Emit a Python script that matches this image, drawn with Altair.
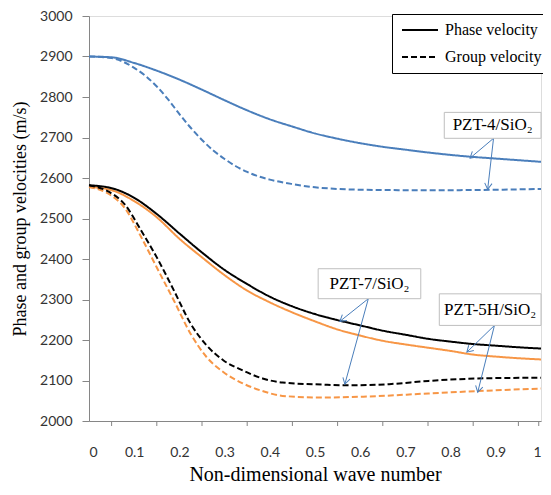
import math
import altair as alt
import pandas as pd

W, H = 452, 405

# ---- data ----
x_tick_labels = [0, 0.1, 0.2, 0.3, 0.4, 0.5, 0.6, 0.7, 0.8, 0.9, 1]
x_tick_marks = [0.05, 0.15, 0.25, 0.35, 0.45, 0.55, 0.65, 0.75, 0.85, 0.95, 0.995]
y_ticks = [2000, 2100, 2200, 2300, 2400, 2500, 2600, 2700, 2800, 2900, 3000]

materials = ["PZT-4/SiO₂", "PZT-7/SiO₂", "PZT-5H/SiO₂"]
material_colors = ["#4a7ebb", "#000000", "#f79646"]
kinds = ["Phase velocity", "Group velocity"]

pzt4_phase_x = [0, 0.05, 0.1, 0.15, 0.2, 0.25, 0.3, 0.35, 0.4, 0.45, 0.5, 0.55, 0.6, 0.65, 0.7, 0.75, 0.8, 0.85, 0.9, 0.95, 1.0]
pzt4_phase_v = [2900, 2898, 2884, 2865, 2843, 2818, 2792, 2767, 2745, 2727, 2710, 2697, 2686, 2677, 2670, 2663, 2657, 2652, 2648, 2644, 2640]

pzt4_group_x = [0, 0.05, 0.1, 0.125, 0.15, 0.175, 0.2, 0.225, 0.25, 0.275, 0.3, 0.325, 0.35, 0.375, 0.4, 0.45, 0.5, 0.55, 0.6, 0.7, 0.8, 0.9, 1.0]
pzt4_group_v = [2900, 2896, 2872, 2852, 2826, 2794, 2758, 2724, 2694, 2668, 2647, 2629, 2615, 2604, 2596, 2585, 2577, 2573, 2571, 2570, 2570, 2571, 2573]

pzt7_phase_x = [0, 0.05, 0.1, 0.15, 0.2, 0.25, 0.3, 0.35, 0.4, 0.45, 0.5, 0.55, 0.6, 0.65, 0.7, 0.75, 0.8, 0.85, 0.9, 0.95, 1.0]
pzt7_phase_v = [2582, 2575, 2551, 2511, 2463, 2416, 2373, 2338, 2307, 2283, 2264, 2249, 2236, 2223, 2213, 2203, 2196, 2190, 2186, 2182, 2179]

pzt7_group_x = [0, 0.04, 0.079, 0.116, 0.15, 0.188, 0.225, 0.26, 0.297, 0.34, 0.384, 0.428, 0.515, 0.57, 0.664, 0.751, 0.86, 1.0]
pzt7_group_v = [2582, 2568, 2535, 2469, 2404, 2322, 2240, 2187, 2150, 2125, 2105, 2095, 2090, 2088, 2091, 2099, 2105, 2107]

pzt5h_phase_x = [0, 0.05, 0.1, 0.15, 0.2, 0.25, 0.3, 0.35, 0.4, 0.45, 0.5, 0.55, 0.6, 0.65, 0.7, 0.75, 0.8, 0.85, 0.9, 0.95, 1.0]
pzt5h_phase_v = [2578, 2570, 2543, 2503, 2450, 2404, 2360, 2322, 2293, 2268, 2246, 2226, 2211, 2198, 2189, 2181, 2173, 2164, 2159, 2155, 2152]

pzt5h_group_x = [0, 0.04, 0.079, 0.116, 0.15, 0.188, 0.225, 0.26, 0.297, 0.34, 0.384, 0.428, 0.515, 0.607, 0.751, 0.86, 1.0]
pzt5h_group_v = [2578, 2563, 2526, 2453, 2379, 2297, 2215, 2158, 2121, 2093, 2074, 2062, 2058, 2060, 2068, 2074, 2080]

# annotation boxes: label, left, right, top, bottom (data units)
ann_labels = ["PZT-4/SiO₂", "PZT-7/SiO₂", "PZT-5H/SiO₂"]
ann_x1 = [0.786, 0.507, 0.775]
ann_x2 = [1.0, 0.734, 1.0]
ann_top = [2762, 2376, 2314]
ann_bot = [2698, 2302, 2236]

# arrows: start and end (data units)
arr_x0 = [0.895, 0.895, 0.618, 0.618, 0.897, 0.897]
arr_v0 = [2698, 2698, 2302, 2302, 2236, 2236]
arr_x1 = [0.843, 0.882, 0.555, 0.566, 0.836, 0.860]
arr_v1 = [2649, 2572, 2246, 2091, 2170, 2071]

# ---- tables ----
series = [
    (materials[0], kinds[0], pzt4_phase_x, pzt4_phase_v),
    (materials[0], kinds[1], pzt4_group_x, pzt4_group_v),
    (materials[2], kinds[0], pzt5h_phase_x, pzt5h_phase_v),
    (materials[2], kinds[1], pzt5h_group_x, pzt5h_group_v),
    (materials[1], kinds[0], pzt7_phase_x, pzt7_phase_v),
    (materials[1], kinds[1], pzt7_group_x, pzt7_group_v),
]
rows = []
for i, (m, k, xs, vs) in enumerate(series):
    for x, v in zip(xs, vs):
        rows.append({"x": x, "v": v, "material": m, "kind": k, "series": i})
df = pd.DataFrame(rows)

ann = pd.DataFrame({
    "label": ann_labels, "x1": ann_x1, "x2": ann_x2, "top": ann_top, "bot": ann_bot,
})
ann["tx"] = (ann["x1"] + ann["x2"]) / 2
ann["tv"] = (ann["top"] + ann["bot"]) / 2

arr = pd.DataFrame({"x0": arr_x0, "v0": arr_v0, "x1": arr_x1, "v1": arr_v1})
px_per_x = W / 1.0
px_per_v = H / 1000.0
arr["ang"] = [
    (math.degrees(math.atan2((b - a) * px_per_x, (d - c) * px_per_v)) + 360) % 360
    for a, b, c, d in zip(arr_x0, arr_x1, arr_v0, arr_v1)
]

ticks_df = pd.DataFrame({"x": x_tick_marks})

x_scale = alt.Scale(domain=[0, 1], nice=False, zero=False)
y_scale = alt.Scale(domain=[2000, 3000], nice=False, zero=False)

AX = "#868686"

lines = alt.Chart(df).mark_line(strokeWidth=2, interpolate="monotone").encode(
    x=alt.X("x:Q", scale=x_scale, axis=alt.Axis(
        values=x_tick_labels, format="~g", title="Non-dimensional wave number",
        ticks=False, tickSize=0, labelPadding=24, grid=False, domainColor=AX,
        labelFlush=True,
        labelFont="Lato", labelFontSize=14, labelColor="#333333",
        titleFont="Liberation Serif", titleFontSize=20, titleFontWeight="normal",
        titleColor="black", titlePadding=5)),
    y=alt.Y("v:Q", scale=y_scale, axis=alt.Axis(
        values=y_ticks, format="d", title="Phase and group velocities (m/s)",
        tickSize=7, tickColor=AX, domainColor=AX, labelPadding=10, grid=False,
        labelFont="Lato", labelFontSize=14, labelColor="#333333",
        titleFont="Liberation Serif", titleFontSize=18, titleFontWeight="normal",
        titleColor="black", titlePadding=10)),
    color=alt.Color("material:N", scale=alt.Scale(domain=materials, range=material_colors), legend=None),
    strokeDash=alt.StrokeDash("kind:N", scale=alt.Scale(domain=kinds, range=[[1, 0], [6, 3]]),
        legend=alt.Legend(title=None, orient="none", legendX=303, legendY=-2,
                          symbolType="M-1,0H5", symbolSize=144, symbolStrokeColor="black",
                          symbolStrokeWidth=2, labelFont="Liberation Serif", labelFontSize=16,
                          labelColor="black", strokeColor="black", fillColor="white",
                          padding=8, rowPadding=11, labelOffset=29, labelLimit=0)),
    detail="series:N",
)

xticks = alt.Chart(ticks_df).mark_rule(color=AX, strokeWidth=1).encode(
    x=alt.X("x:Q", scale=x_scale), y=alt.value(H), y2=alt.value(H + 5))

boxes = alt.Chart(ann).mark_rect(fill="white", stroke="#bfbfbf", strokeWidth=1).encode(
    x=alt.X("x1:Q", scale=x_scale), x2="x2:Q",
    y=alt.Y("top:Q", scale=y_scale), y2="bot:Q")

texts = alt.Chart(ann).mark_text(font="Liberation Serif", fontSize=17, color="black").encode(
    x=alt.X("tx:Q", scale=x_scale), y=alt.Y("tv:Q", scale=y_scale), text="label:N")

arrow_lines = alt.Chart(arr).mark_rule(color="#4a7ebb", strokeWidth=1).encode(
    x=alt.X("x0:Q", scale=x_scale), y=alt.Y("v0:Q", scale=y_scale), x2="x1:Q", y2="v1:Q")

arrow_heads = alt.Chart(arr).mark_point(
    shape="M-0.6,1L0,0L0.6,1", filled=False, size=150, strokeWidth=1, color="#4a7ebb", opacity=1
).encode(x=alt.X("x1:Q", scale=x_scale), y=alt.Y("v1:Q", scale=y_scale),
         angle=alt.Angle("ang:Q", scale=None))

chart = alt.layer(lines, xticks, arrow_lines, arrow_heads, boxes, texts).properties(
    width=W, height=H,
    autosize=alt.AutoSizeParams(type="none"),
    padding={"left": 81, "top": 8, "right": 2, "bottom": 65},
).configure_view(stroke=None).configure(background="white")

chart.save("out.html", embed_options={"renderer": "svg", "actions": False})
